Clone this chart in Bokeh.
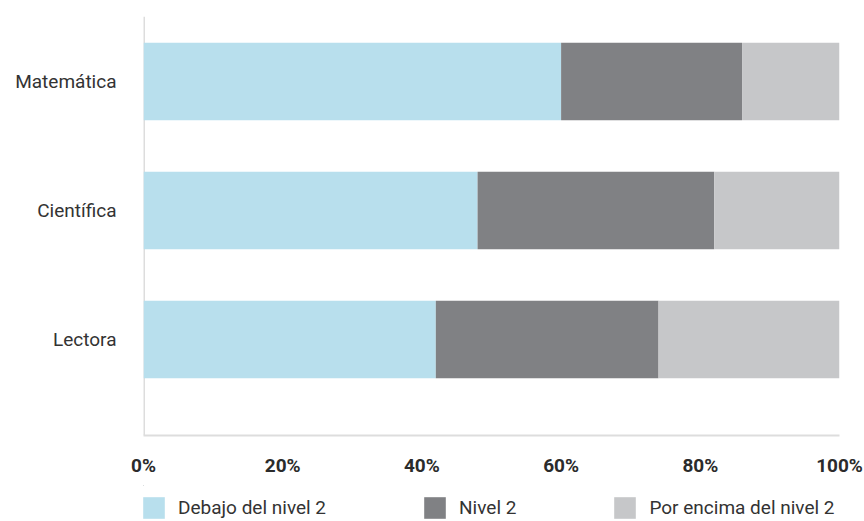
from bokeh.plotting import figure
from bokeh.layouts import column
from bokeh.models import Range1d, FixedTicker, Legend, LegendItem, Span, ColumnDataSource
from bokeh.embed import file_html
from bokeh.resources import INLINE

# ---- data ----
categories = ["Matemática", "Científica", "Lectora"]
debajo = [60, 48, 42]
nivel2 = [26, 34, 32]
encima = [14, 18, 26]
series = ["Debajo del nivel 2", "Nivel 2", "Por encima del nivel 2"]
colors = ["#B8DFED", "#808184", "#C6C7C9"]
x_ticks = [0, 20, 40, 60, 80, 100]
x_tick_labels = ["0%", "20%", "40%", "60%", "80%", "100%"]

FONT = "Roboto"
n = len(categories)
ypos = [n - 1 - i for i in range(n)]
y_start, y_end = -0.744, (n - 1) + 0.504
stackers = ["debajo", "nivel2", "encima"]

source = ColumnDataSource(dict(y=ypos, debajo=debajo, nivel2=nivel2, encima=encima))

# ---- main chart ----
p = figure(frame_width=696, frame_height=419, output_backend="svg", toolbar_location=None,
           x_range=Range1d(x_ticks[0], x_ticks[-1]), y_range=Range1d(y_start, y_end),
           min_border_left=143, min_border_right=25, min_border_top=16, min_border_bottom=50)
p.outline_line_color = None
p.xgrid.visible = False
p.ygrid.visible = False

p.add_layout(Span(location=x_ticks[0], dimension="height", line_color="#DDDDDD",
                  line_width=3, level="underlay"))

rs = p.hbar_stack(stackers, y="y", height=0.6, fill_color=colors, line_color=None, source=source)

p.xaxis.ticker = FixedTicker(ticks=x_ticks)
p.xaxis.major_label_overrides = {t: l for t, l in zip(x_ticks, x_tick_labels)}
p.xaxis.axis_line_color = "#DDDDDD"
p.xaxis.axis_line_width = 2
p.xaxis.major_tick_line_color = None
p.xaxis.major_tick_out = 0
p.xaxis.major_tick_in = 0
p.xaxis.minor_tick_line_color = None
p.xaxis.minor_tick_out = 0
p.xaxis.axis_label_standoff = 0
p.xaxis.major_label_text_font = FONT
p.xaxis.major_label_text_font_style = "bold"
p.xaxis.major_label_text_font_size = "19px"
p.xaxis.major_label_text_color = "#2B2B2B"
p.xaxis.major_label_standoff = 18

p.yaxis.ticker = FixedTicker(ticks=ypos)
p.yaxis.major_label_overrides = {y: c for y, c in zip(ypos, categories)}
p.yaxis.axis_line_color = None
p.yaxis.major_tick_line_color = None
p.yaxis.major_tick_out = 0
p.yaxis.minor_tick_line_color = None
p.yaxis.major_label_text_font = FONT
p.yaxis.major_label_text_font_size = "19px"
p.yaxis.major_label_text_color = "#333333"
p.yaxis.major_label_standoff = 27

# ---- legend strip (same data, drawn outside its visible ranges) ----
pl = figure(frame_width=696, height=36, output_backend="svg", toolbar_location=None,
            x_range=Range1d(1000, 1001), y_range=Range1d(-20, -19),
            min_border_left=143, min_border_right=25, min_border_top=0, min_border_bottom=0)
pl.outline_line_color = None
pl.axis.visible = False
pl.grid.visible = False
lrs = pl.hbar_stack(stackers, y="y", height=0.6, fill_color=colors, line_color=None, source=source)

legend = Legend(items=[LegendItem(label=s, renderers=[r]) for s, r in zip(series, lrs)],
                location=(-3, 0), orientation="horizontal",
                padding=0, margin=0, spacing=95, label_standoff=11,
                glyph_width=27, glyph_height=27, label_height=27,
                border_line_color=None, background_fill_alpha=0,
                label_text_font=FONT, label_text_font_size="19px",
                label_text_color="#333333")
pl.add_layout(legend, "center")

layout = column(p, pl, spacing=0)
open("out.html", "w").write(file_html(layout, INLINE))
